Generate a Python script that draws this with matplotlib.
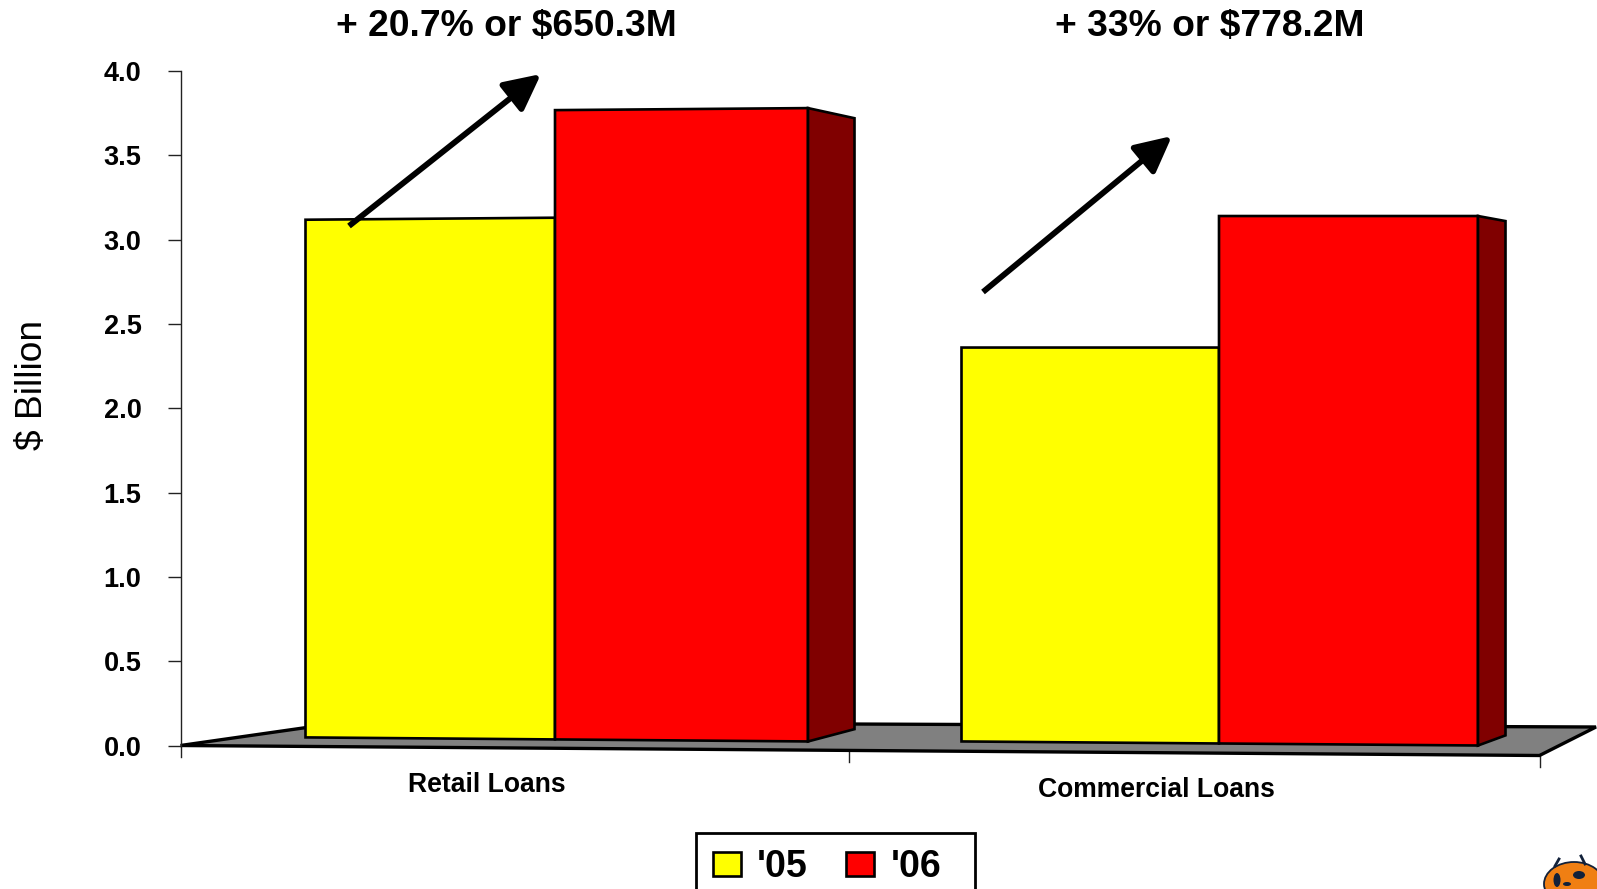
import numpy as np
from matplotlib import pyplot as plt
from matplotlib.lines import Line2D
from matplotlib.patches import FancyArrowPatch, Patch, Ellipse, Rectangle

plt.rcParams['font.family'] = ['Liberation Sans', 'DejaVu Sans']

W, H = 1597, 889

categories = ["Retail Loans", "Commercial Loans"]
series = ["'05", "'06"]
values_05 = [3.13, 2.36]
values_06 = [3.78, 3.14]
y_ticks = [0.0, 0.5, 1.0, 1.5, 2.0, 2.5, 3.0, 3.5, 4.0]
headlines = ["+ 20.7% or $650.3M", "+ 33% or $778.2M"]

fig = plt.figure(figsize=(W / 100, H / 100), dpi=100, facecolor="white")

# axis box in pixels, from the reference
ax_l, ax_r = 180.5, 1539.5
ax_t, ax_b = 71.0, 745.5
ax = fig.add_axes([ax_l / W, 1 - ax_b / H, (ax_r - ax_l) / W, (ax_b - ax_t) / H])
ax.set_xlim(0, 2)
ax.set_ylim(0, 4)
for s in ["top", "right", "bottom"]:
    ax.spines[s].set_visible(False)
ax.spines["left"].set_color("#222222")
ax.spines["left"].set_linewidth(1)
ax.patch.set_alpha(0)


def ux(px):
    return (px - ax_l) / (ax_r - ax_l) * 2


def uy(px):
    return (ax_b - px) / (ax_b - ax_t) * 4


def fill(xs, ys, color, lw=1.9, z=3):
    ax.fill(xs, ys, facecolor=color, edgecolor="black", linewidth=lw,
            joinstyle="miter", clip_on=False, zorder=z)


# floor
fill([ux(180.5), ux(345), ux(1596), ux(1539.5)],
     [uy(745.5), uy(722), uy(727), uy(755.5)], "#808080", lw=2.4, z=1)

# bar edges, slightly skewed like the perspective of the original
edges = [[ux(305.5), ux(555), ux(808), ux(854.5)],
         [ux(961.5), ux(1219), ux(1478), ux(1505.5)]]
top_tilt = [(0.012, 0.012, 0.06), (0.0, 0.0, 0.03)]
base_05 = [(0.048, 0.036), (0.024, 0.012)]
base_06 = [(0.036, 0.024), (0.012, 0.0)]
side_rise = [0.097, 0.06]

for i in range(len(categories)):
    x0, xm, x1, xs = edges[i]
    t = top_tilt[i]
    v5, v6 = values_05[i], values_06[i]
    fill([x0, xm, xm, x0], [base_05[i][0], base_05[i][1], v5, v5 - t[0]], "#ffff00")
    fill([xm, x1, x1, xm], [base_06[i][0], base_06[i][1], v6, v6 - t[1]], "#ff0000")
    fill([x1, xs, xs, x1], [base_06[i][1], side_rise[i], v6 - t[2], v6], "#800000")

# ticks
ax.set_xticks([])
ax.set_yticks(y_ticks)
ax.set_yticklabels(["%.1f" % v for v in y_ticks], fontsize=19.5, fontweight="bold")
ax.tick_params(axis="y", length=9.5, width=1, color="#222222", pad=18.5)
for px, py in [(180.5, 745.5), (848.5, 751), (1539.5, 755.5)]:
    ax.plot([ux(px), ux(px)], [uy(py), uy(py + 11)], color="#222222", lw=1,
            clip_on=False, zorder=0)

# category labels
ax.text(ux(487), uy(785), categories[0], fontsize=19.1, fontweight="bold",
        ha="center", va="center", clip_on=False)
ax.text(ux(1156), uy(790), categories[1], fontsize=19.1, fontweight="bold",
        ha="center", va="center", clip_on=False)

ax.set_ylabel("$ Billion", fontsize=26.7)
ax.yaxis.set_label_coords(ux(50), uy(385), transform=ax.transData)

# headlines
fig.text(506 / W, 1 - 26.5 / H, headlines[0], fontsize=26.8, fontweight="bold",
         ha="center", va="center")
fig.text(1210 / W, 1 - 26.5 / H, headlines[1], fontsize=26.8, fontweight="bold",
         ha="center", va="center")

# arrows
for (a, b) in [((349, 226), (541, 74)), ((983, 292), (1172, 136))]:
    arrow = FancyArrowPatch((a[0] / W, 1 - a[1] / H), (b[0] / W, 1 - b[1] / H),
                            transform=fig.transFigure, arrowstyle="-|>,head_length=1.0,head_width=0.5",
                            mutation_scale=22, linewidth=4.2, color="black",
                            capstyle="butt", shrinkA=0, shrinkB=0, zorder=6)
    fig.add_artist(arrow)

# legend frame drawn by hand, its lower edge runs off the page
fig.add_artist(Rectangle((696 / W, 1 - 900 / H), 279 / W, 67.5 / H, transform=fig.transFigure,
                         facecolor="white", edgecolor="black", linewidth=2))
handles = [Patch(facecolor="#ffff00", edgecolor="black", linewidth=1.9),
           Patch(facecolor="#ff0000", edgecolor="black", linewidth=1.9)]
leg = fig.legend(handles, series, loc="upper left", ncol=2,
                 bbox_to_anchor=(696 / W, 1 - 832.5 / H), borderaxespad=0,
                 prop={"size": 27, "weight": "bold"}, frameon=False,
                 handlelength=0.75, handleheight=0.62,
                 handletextpad=0.43, columnspacing=1.02, borderpad=0.45)
leg.set_zorder(5)

# little mascot in the corner, cropped by the page
navy = "#12213a"
for p in [Ellipse((1574 / W, 1 - 884 / H), 60 / W, 44 / H, transform=fig.transFigure,
                  facecolor="#f07f13", edgecolor=navy, linewidth=1.3),
          Ellipse((1579 / W, 1 - 875 / H), 12 / W, 8 / H, transform=fig.transFigure,
                  facecolor=navy, edgecolor="none"),
          Ellipse((1557 / W, 1 - 880 / H), 7 / W, 14 / H, transform=fig.transFigure,
                  facecolor=navy, edgecolor="none"),
          Ellipse((1567 / W, 1 - 884 / H), 8 / W, 4 / H, transform=fig.transFigure,
                  facecolor=navy, edgecolor="none")]:
    fig.add_artist(p)
for ex, ey in [((1555, 1559), (866, 859)), ((1585, 1581), (864, 856))]:
    fig.add_artist(Line2D([v / W for v in ex], [1 - v / H for v in ey], color=navy,
                          lw=2, transform=fig.transFigure))

plt.savefig("out.png", dpi=100)
